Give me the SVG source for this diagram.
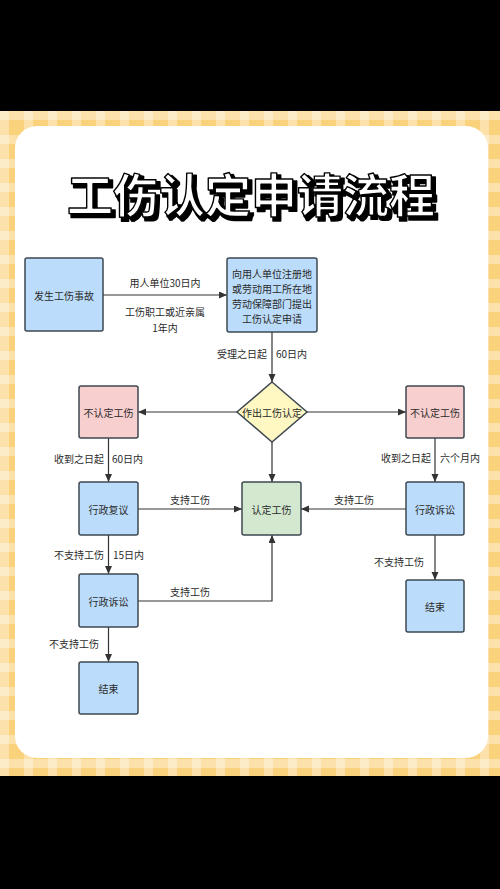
<svg xmlns="http://www.w3.org/2000/svg" width="500" height="889" viewBox="0 0 500 889">
<defs>
<pattern id="check" x="0" y="111" width="24" height="24" patternUnits="userSpaceOnUse">
<rect width="24" height="24" fill="#FBD27C"/>
<rect x="0" y="0" width="9" height="24" fill="#FFFFFF" fill-opacity="0.35"/>
<rect x="0" y="0" width="24" height="9" fill="#FFFFFF" fill-opacity="0.35"/>
</pattern>
<filter id="shadow" x="-5%" y="-20%" width="110%" height="140%">
<feMorphology in="SourceAlpha" operator="dilate" radius="1.2" result="fat"/>
<feOffset in="fat" dx="2.5" dy="2.5" result="off"/>
<feFlood flood-color="#000000"/>
<feComposite in2="off" operator="in" result="sh"/>
<feMerge><feMergeNode in="sh"/><feMergeNode in="SourceGraphic"/></feMerge>
</filter>
<marker id="arr" markerUnits="userSpaceOnUse" markerWidth="9" markerHeight="8" refX="8" refY="3.5" orient="auto">
<path d="M0,0 L8,3.5 L0,7 z" fill="#333333"/>
</marker>
</defs>
<style>
.box{stroke:#3E4852;stroke-width:1.5}
.blue{fill:#BBDCFA}
.pink{fill:#F8CFCF}
.green{fill:#D3E8CF}
.yel{fill:#FFF8C2}
.t{font-family:"Noto Sans CJK SC","Liberation Sans",sans-serif;font-size:10px;fill:#2A2A2A;dominant-baseline:central}
.c{text-anchor:middle}
.e{text-anchor:end}
.ln{stroke:#333333;stroke-width:1.2;fill:none;marker-end:url(#arr)}
.title{font-family:"Noto Sans CJK SC","Liberation Sans",sans-serif;font-size:46px;font-weight:bold;text-anchor:middle;dominant-baseline:central}
</style>
<rect x="0" y="0" width="500" height="889" fill="#000000"/>
<rect x="0" y="111" width="500" height="665" fill="url(#check)"/>
<rect x="15" y="126" width="473" height="632" rx="22" fill="#FFFFFF"/>
<g id="title">
<text class="title" x="251" y="192" fill="#FFFFFF" stroke="#000000" stroke-width="1.4" stroke-linejoin="round" filter="url(#shadow)">工伤认定申请流程</text>
</g>
<g id="connectors">
<line class="ln" x1="103" y1="295" x2="227" y2="295"/>
<line class="ln" x1="272" y1="332" x2="272" y2="382"/>
<line class="ln" x1="237" y1="412" x2="138" y2="412"/>
<line class="ln" x1="307" y1="412" x2="406" y2="412"/>
<line class="ln" x1="108.5" y1="438" x2="108.5" y2="482"/>
<line class="ln" x1="435" y1="438" x2="435" y2="482"/>
<line class="ln" x1="272" y1="442" x2="272" y2="482"/>
<line class="ln" x1="138" y1="509" x2="242" y2="509"/>
<line class="ln" x1="406" y1="509" x2="301" y2="509"/>
<line class="ln" x1="108.5" y1="535" x2="108.5" y2="574"/>
<line class="ln" x1="435" y1="535" x2="435" y2="580"/>
<path class="ln" d="M138,601 H272 V535"/>
<line class="ln" x1="108.5" y1="627" x2="108.5" y2="662"/>
<text class="t c" x="165" y="282">用人单位30日内</text>
<text class="t c" x="165" y="311">工伤职工或近亲属</text>
<text class="t c" x="165" y="327">1年内</text>
<text class="t e" x="267" y="353">受理之日起</text>
<text class="t" x="276" y="353">60日内</text>
<text class="t e" x="104" y="458">收到之日起</text>
<text class="t" x="112" y="458">60日内</text>
<text class="t e" x="431" y="457">收到之日起</text>
<text class="t" x="440" y="457">六个月内</text>
<text class="t c" x="190" y="499">支持工伤</text>
<text class="t c" x="354" y="499">支持工伤</text>
<text class="t e" x="104" y="554">不支持工伤</text>
<text class="t" x="113" y="554">15日内</text>
<text class="t e" x="424" y="561">不支持工伤</text>
<text class="t c" x="190" y="591">支持工伤</text>
<text class="t e" x="99" y="643">不支持工伤</text>
</g>
<g id="accident">
<rect class="box blue" x="25" y="258" width="78" height="73" rx="2"/>
<text class="t c" x="64" y="295">发生工伤事故</text>
</g>
<g id="apply">
<rect class="box blue" x="227" y="258" width="90" height="74" rx="2"/>
<text class="t c" x="272" y="273">向用人单位注册地</text>
<text class="t c" x="272" y="288">或劳动用工所在地</text>
<text class="t c" x="272" y="303">劳动保障部门提出</text>
<text class="t c" x="272" y="318">工伤认定申请</text>
</g>
<g id="decision">
<polygon class="box yel" points="272,382 307,412 272,442 237,412"/>
<text class="t c" x="272" y="412">作出工伤认定</text>
</g>
<g id="notLeft">
<rect class="box pink" x="79" y="386" width="59" height="52" rx="2"/>
<text class="t c" x="108.5" y="412">不认定工伤</text>
</g>
<g id="notRight">
<rect class="box pink" x="406" y="386" width="58" height="52" rx="2"/>
<text class="t c" x="435" y="412">不认定工伤</text>
</g>
<g id="review">
<rect class="box blue" x="79" y="482" width="59" height="53" rx="2"/>
<text class="t c" x="108.5" y="509">行政复议</text>
</g>
<g id="recognized">
<rect class="box green" x="242" y="482" width="59" height="53" rx="2"/>
<text class="t c" x="271.5" y="509">认定工伤</text>
</g>
<g id="litigRight">
<rect class="box blue" x="406" y="482" width="58" height="53" rx="2"/>
<text class="t c" x="435" y="509">行政诉讼</text>
</g>
<g id="litigLeft">
<rect class="box blue" x="79" y="574" width="59" height="53" rx="2"/>
<text class="t c" x="108.5" y="601">行政诉讼</text>
</g>
<g id="endRight">
<rect class="box blue" x="406" y="580" width="58" height="52" rx="2"/>
<text class="t c" x="435" y="606">结束</text>
</g>
<g id="endLeft">
<rect class="box blue" x="79" y="662" width="59" height="52" rx="2"/>
<text class="t c" x="108.5" y="688">结束</text>
</g>
</svg>
